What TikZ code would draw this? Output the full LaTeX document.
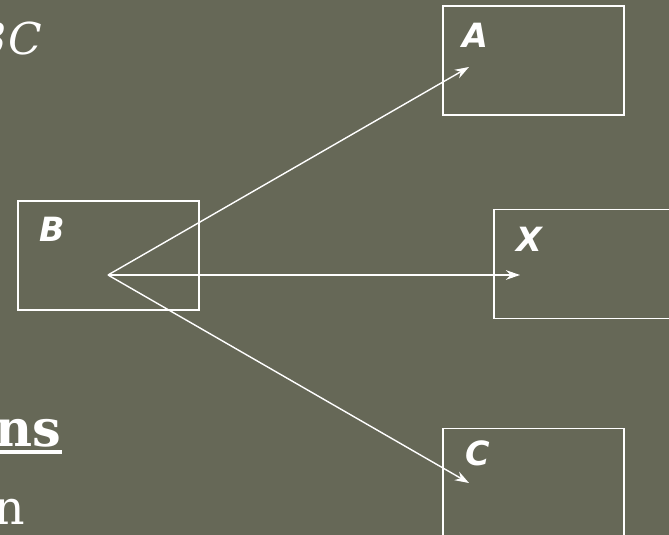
\documentclass[tikz,border=0pt]{standalone}
\usepackage{fontspec}
\usepackage{xcolor}
\usepackage{tikz}
\usetikzlibrary{arrows.meta}
\newfontfamily\slabfont{DejaVu Serif}
\newfontfamily\tagfont{DejaVu Sans}
\definecolor{slateBg}{HTML}{666857}

\begin{document}
\begin{tikzpicture}[
  box/.style={draw=white, line width=1.1pt, minimum width=3.62cm, minimum height=2.18cm, inner sep=0pt},
  tag/.style={text=white, font=\tagfont\fontsize{19}{20}\selectfont\bfseries\itshape},
  link/.style={draw=white, line width=0.8pt, -{Stealth[length=8pt,width=5.5pt]}}]
\clip (0,0) rectangle (13.38,10.70);
\fill[slateBg] (0,0) rectangle (13.38,10.70);
% boxes
\node[box] (boxA) at (10.67,9.49) {};
\node[box] (boxB) at (2.17,5.59) {};
\node[box] (boxX) at (11.69,5.42) {};
\node[box] (boxC) at (10.67,1.04) {};
\node[tag] (tagA) at (9.50,10.00) {A};
\node[tag] (tagB) at (1.04,6.12) {B};
\node[tag] (tagX) at (10.58,5.92) {X};
\node[tag] (tagC) at (9.56,1.64) {C};
% arrows out of B
\coordinate (src) at (2.16,5.20);
\coordinate (endA) at (9.38,9.36);
\coordinate (endX) at (10.40,5.20);
\coordinate (endC) at (9.38,1.04);
\draw[link] (src) -- (endA);
\draw[link] (src) -- (endX);
\draw[link] (src) -- (endC);
% cut-off text on the left
\node[anchor=base east, text=white, inner sep=0pt, font=\slabfont\fontsize{25}{30}\selectfont\itshape] (head) at (0.84,9.60) {BC};
\node[anchor=base east, text=white, inner sep=0pt, font=\slabfont\fontsize{29}{30}\selectfont\bfseries] (sub) at (1.24,1.76) {ns};
\draw[white, line width=1.8pt] ([yshift=-2.8pt]sub.base west) -- ([yshift=-2.8pt]sub.base east);
\node[anchor=base east, text=white, inner sep=0pt, font=\slabfont\fontsize{27}{30}\selectfont] (line) at (0.50,0.20) {n};
\end{tikzpicture}
\end{document}
